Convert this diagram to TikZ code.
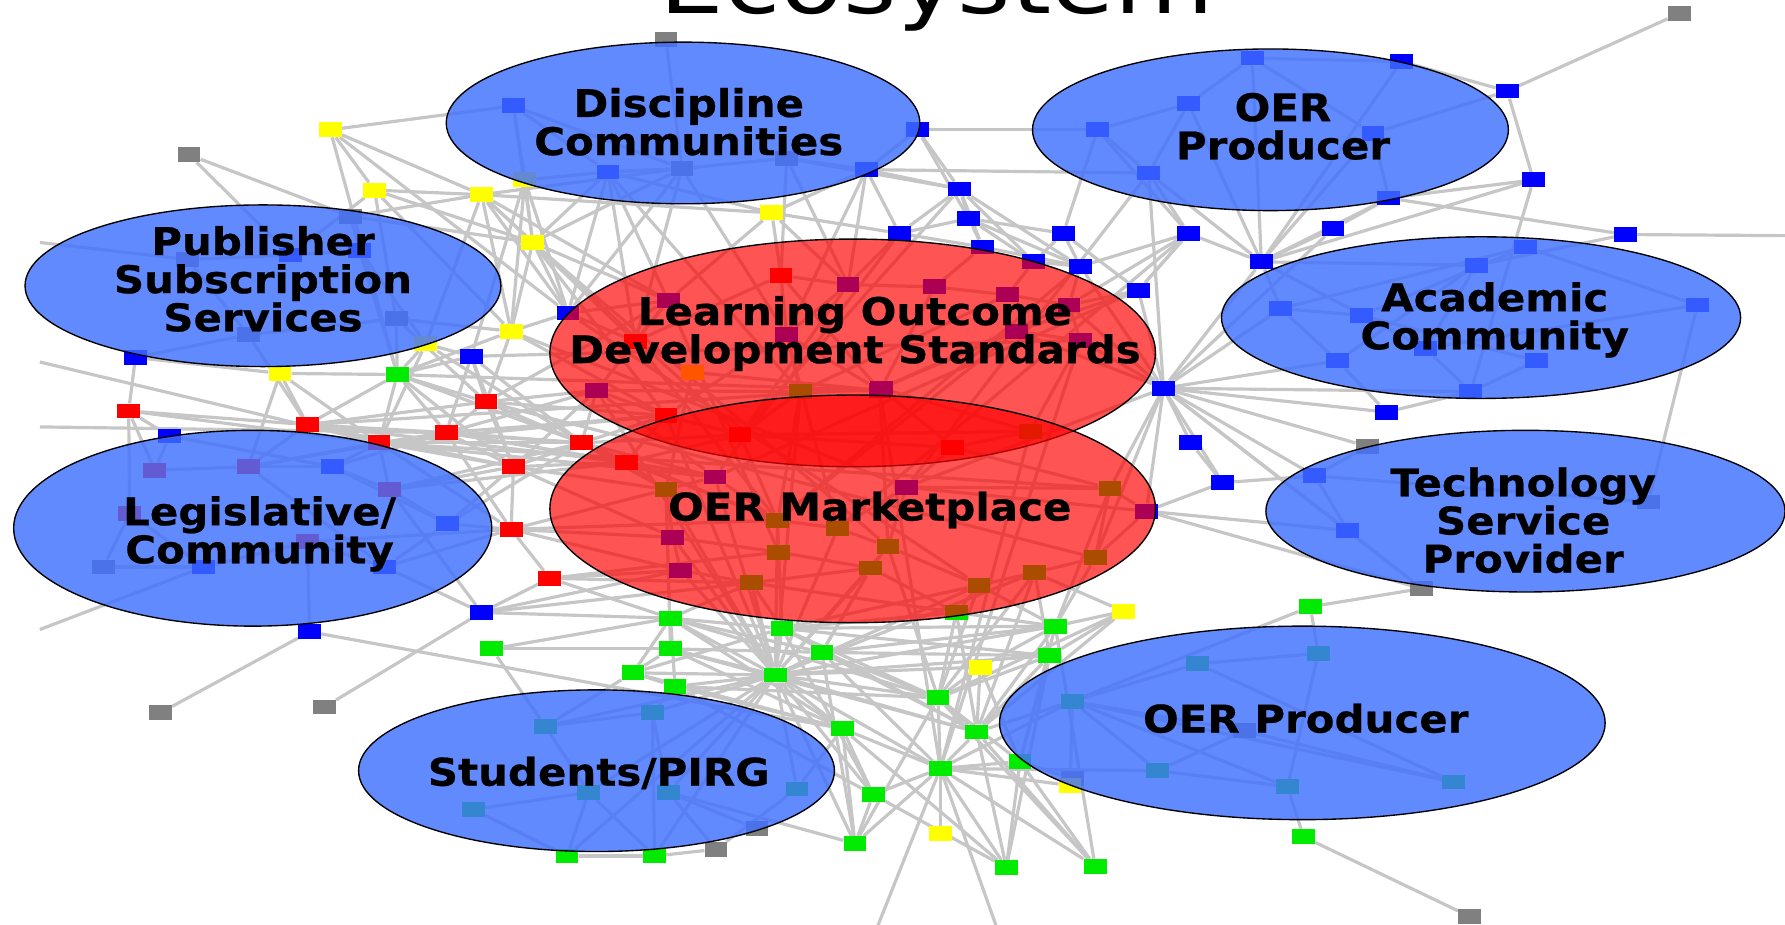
\documentclass[tikz,border=0pt]{standalone}
\usepackage{fontspec}
\usetikzlibrary{shapes.geometric}
\newfontfamily\lblfont[FakeStretch=1.1,FakeBold=0.6]{DejaVu Sans Bold}
\newfontfamily\ttlfont[FakeStretch=1.2]{DejaVu Sans}
\definecolor{ebl}{RGB}{64,112,255}
\definecolor{erd}{RGB}{255,0,0}
\definecolor{edgec}{RGB}{198,198,198}
\definecolor{sqg}{RGB}{128,128,128}
\definecolor{sqy}{RGB}{255,255,0}
\definecolor{sqb}{RGB}{0,0,255}
\definecolor{sqr}{RGB}{255,0,0}
\definecolor{sqn}{RGB}{0,235,0}
\pgfdeclarelayer{bg}
\pgfsetlayers{bg,main}
\tikzset{
  sq/.style={rectangle,minimum width=20pt,minimum height=13pt,inner sep=0pt,draw=none},
  edgeline/.style={draw=edgec,line width=2.8pt},
  blueell/.style={ellipse,inner sep=0pt,fill=ebl,fill opacity=0.82,draw=black,line width=1.2pt},
  redell/.style={ellipse,inner sep=0pt,fill=erd,fill opacity=0.67,draw=black,line width=1.2pt},
  lbl/.style={align=center,inner sep=0pt,font=\lblfont\fontsize{33.5}{33.5}\selectfont},
}
\begin{document}
\begin{tikzpicture}[x=1pt,y=-1pt]
\useasboundingbox (0,0) rectangle (1568,812);
\clip (0,0) rectangle (1568,812);
% title
\node[inner sep=0pt,anchor=base,font=\ttlfont\fontsize{75}{75}\selectfont] (title) at (823,11.6) {Ecosystem};
% picture edge coordinates
\coordinate (E1) at (1568,207);
\coordinate (E2) at (770,816);
\coordinate (E3) at (876,816);
\coordinate (E4) at (35,375);
\coordinate (E5) at (35,318);
\coordinate (E6) at (35,553);
\coordinate (E7) at (35,213);
% squares
\foreach \n/\x/\y in {G1/1475/12,G2/585/35,G3/166/136,G4/141/626,G5/285/621,G6/629/746,G7/1291/805,G8/1249/517,G9/1201/392,G10/1448/441,G11/1093/642,G12/942/684,G13/599/148,G14/691/139,G15/165/228,G16/348/280,G17/218/294,G18/308/190,G19/665/728,G20/91/498}
  \node[sq,fill=sqg] (\n) at (\x,\y) {};
\foreach \n/\x/\y in {Y1/290/114,Y2/329/167,Y3/423/171,Y4/468/213,Y5/678/187,Y6/449/291,Y7/246/328,Y8/374/302,Y9/461/158,Y10/987/537,Y11/861/586,Y12/826/732,Y13/940/690,Y14/608/327}
  \node[sq,fill=sqy] (\n) at (\x,\y) {};
\foreach \n/\x/\y in {B1/1231/54,B2/1324/80,B3/1100/51,B4/1044/91,B5/964/114,B6/1206/117,B7/1009/152,B8/1347/158,B9/1220/174,B10/806/114,B11/843/166,B12/851/192,B13/790/205,B14/934/205,B15/863/217,B16/908/230,B17/949/234,B18/1000/255,B19/1044/205,B20/1171/201,B21/1108/230,B22/1428/206,B23/1340/217,B24/1297/233,B25/1125/271,B26/1196/277,B27/1491/268,B28/1252/306,B29/1175/317,B30/1350/317,B31/1292/344,B32/1218/362,B33/1022/341,B34/1046/389,B35/1074/424,B36/1007/449,B37/1155/418,B38/1184/466,B39/451/93,B40/534/151,B41/761/149,B42/255/224,B43/316/220,B44/119/314,B45/499/275,B46/414/313,B47/149/383,B48/272/555,B49/423/538,B50/292/410,B51/393/460,B52/179/498,B53/338/498,B54/745/250,B55/587/264,B56/691/294,B57/524/343,B58/773/343,B59/821/252,B60/885/259,B61/939/268,B62/893/291,B63/949/299,B64/628/419,B65/591/472,B66/598/501,B67/796/428,B68/774/341}
  \node[sq,fill=sqb] (\n) at (\x,\y) {};
\foreach \n/\x/\y in {R1/113/361,R2/270/373,R3/333/389,R4/392/380,R5/427/353,R6/511/389,R7/451/410,R8/550/406,R9/449/465,R10/483/508,R11/585/365,R12/686/242,R13/558/300,R14/650/382,R15/837/393,R16/136/413,R17/218/410,R18/342/430,R19/114/451,R20/270/476}
  \node[sq,fill=sqr] (\n) at (\x,\y) {};
\foreach \n/\x/\y in {N1/349/329,N2/432/570,N3/589/543,N4/589/570,N5/556/591,N6/593/603,N7/681/593,N8/687/552,N9/722/573,N10/740/640,N11/767/698,N12/751/741,N13/824/613,N14/858/643,N15/826/675,N16/896/669,N17/884/762,N18/962/761,N19/927/550,N20/922/576,N21/1151/533,N22/1145/735,N23/498/752,N24/575/752,N25/573/626,N26/479/638,N27/517/696,N28/587/696,N29/700/693,N30/416/711,N31/1052/583,N32/1158/574,N33/942/616,N34/1017/677,N35/1131/691,N36/1277/687,N37/703/344,N38/585/430,N39/683/457,N40/736/464,N41/684/485,N42/780/480,N43/765/499,N44/660/512,N45/860/514,N46/909/503,N47/962/490,N48/975/429,N49/840/538,N50/905/379}
  \node[sq,fill=sqn] (\n) at (\x,\y) {};
% connectors
\begin{pgfonlayer}{bg}
\foreach \a/\b in {G1/B2,B2/B8,B2/B1,B2/B6,B1/B3,B1/B21,B3/B4,B3/B21,B3/B6,B4/B5,B4/B21,B4/B7,B5/B10,B5/B7,B5/B19,B6/B21,B6/B9,B7/B21,B7/B33,B7/B41,B8/B9,B8/B21,B9/B22,B9/B21,B9/B20,B22/E1,B22/B24,B20/B21,B20/B33,B21/B24,B21/B25,B21/B28,B21/B19,B21/B33,B19/B7,B19/B17,B19/B61,B19/B18,B8/B31,B23/B26,B23/B25,B24/B28,B24/B29,B25/B26,B25/B29,B26/B30,B27/B28,B27/B23,B28/B31,B29/B32,B30/B31,B31/B32,B33/B25,B33/B29,B33/B32,B33/G9,B33/B37,B33/B38,B33/B34,B33/B35,B33/B36,B33/B18,B33/B61,B33/B63,B33/B62,B33/B17,B33/B31,B33/G8,B33/N47,B33/N48,B33/B67,B34/B35,B35/B36,B35/B37,B36/G8,B36/B38,B36/B67,B36/N47,G9/B37,G8/N21,N21/N33,N21/N32,N32/N31,N31/N33,N32/N35,N33/N34,N33/N35,N34/N35,N31/N36,N33/N36,N35/N22,N22/G7,N34/N15,B37/B38,B37/G10,G10/B27,B38/G8}
  \draw[edgeline] (\a) -- (\b);
\foreach \a/\b in {B11/B12,B11/B13,B11/B15,B11/B16,B11/B17,B11/B10,B11/B41,B12/B15,B12/B16,B12/B13,B12/B14,B12/B17,B13/B54,B13/B15,B14/B16,B14/B17,B14/B5,B14/B18,B15/B17,B15/B59,B16/B60,B16/B17,B17/B61,B18/B61,B18/B62,B18/B19,B10/B41,B10/B5,B10/B12,B41/B13,B41/G14,Y5/B13,Y5/B41}
  \draw[edgeline] (\a) -- (\b);
\foreach \a/\b in {G2/G13,B39/G13,B39/B40,B39/Y9,B40/G13,G13/G14,G14/B41,B40/Y9,G13/Y4,G14/B11,B40/R13,G13/B45,Y1/B45,Y1/Y2,Y1/N1,Y1/B39,Y2/Y3,Y2/B42,Y2/Y4,Y3/Y4,Y3/G13,Y3/B55,Y4/Y6,Y4/B45,Y4/R11,Y5/R12,Y5/B40,Y5/Y3,Y9/B46,G3/B42,G3/G18,G18/B43,G18/Y3,B42/B43,B42/G15,B43/Y8,G15/G17,G17/G16,G17/B44,G15/E7,B44/R1,E5/R3,E4/R4,E6/B52,G16/Y6,Y8/B46,Y6/B45,Y6/N1,Y6/R5,B45/R13,B45/B55,B46/R5,B46/N1,B46/R4,Y7/R2,Y7/B44,Y7/R17,Y7/N1,N1/R5,N1/R3,N1/R6,N1/R7,Y2/Y6,Y3/Y6,Y3/B45,Y4/B55,Y9/Y4,B40/B45,B40/Y4,G13/R13,B39/Y4,Y5/B55,Y5/B54,B41/B54,G14/B54,G14/R12,B40/B55,Y9/B45,Y3/Y8,Y2/G16,Y1/Y3,Y9/Y6,Y4/R13,G18/Y4}
  \draw[edgeline] (\a) -- (\b);
\foreach \a/\b in {R1/R2,R1/B47,R1/R16,R1/R19,R2/R3,R2/R4,R2/R17,R3/R4,R3/R18,R4/R5,R4/R6,R4/R7,R5/R6,R5/R11,R5/B55,R6/R7,R6/R8,R6/R11,R6/B57,R6/N38,R6/B64,R7/R8,R7/R9,R7/R18,R8/R14,R8/B64,R8/N38,R8/R11,R9/R10,R9/B51,R9/N38,R9/B65,R10/B66,R10/N3,R10/B49,R11/B57,R11/R14,R11/B56,R13/R12,R13/B55,R13/Y14,R12/B54,R12/B56,R14/N39,R14/R15,R15/B68,R15/N50,R15/B67,R15/N48,R3/R6,R2/R7,R4/R8,R3/R9,R5/R8,R4/R11,Y8/R6,Y6/R11,B46/R7,R2/R6,R3/R7,R4/R9,R5/R7,R1/R3,R2/R5,N1/R4,N1/R2,Y7/R3,B46/R6,Y8/R3,R17/R4,R18/R6,R18/R8,B51/R6,B51/R7,R20/R9,B53/R9,R3/B64,R4/B64,R7/N38,R7/B65,R9/B66,R2/R8,R3/R11,R4/B57,R5/B57,R6/N39,R8/N39,R7/B57,R6/R14,R9/N39,R10/N41,R10/N44,B49/N44,B49/N3,R17/R3,B50/R3,B50/R4,G16/R5,G16/N1,B43/N1,Y8/N1,G17/R2}
  \draw[edgeline] (\a) -- (\b);
\foreach \a/\b in {B47/R16,B47/B50,R16/R17,R17/B50,B50/R18,R18/B51,B51/B53,B52/R20,R20/B53,R19/B52,R19/G20,G20/B52,R20/B48,B53/B49,R18/B49,B48/G4,B49/G5,B48/N10,B49/B66,N2/N3,N2/N4,N2/N26,R17/B53,B50/B51}
  \draw[edgeline] (\a) -- (\b);
\foreach \a/\b in {N7/N3,N7/N4,N7/N5,N7/N6,N7/N8,N7/N9,N7/N10,N7/N11,N7/N12,N7/N13,N7/N14,N7/N15,N7/N19,N7/N20,N7/N24,N7/N23,N7/N25,N7/N26,N7/N27,N7/N28,N7/N29,N7/B66,N7/N44,N7/N43,N7/N42,N7/N45,N7/N46,N7/N38,N7/N39,N7/N40,N7/B64,N7/B65,N7/Y11,N7/B57,N7/R11,N7/N37,N3/N8,N3/N9,N4/N9,N5/N8,N6/N13,N8/N19,N9/N19,N9/N20,N8/N49,N49/N19,N45/N19,N46/N20,N47/N19,Y10/N19,Y10/N20,Y10/N13,Y10/N46,Y11/N13,Y11/N19,Y11/N14,N13/N14,N14/N15,N13/N15,N15/N11,N15/N12,N15/N17,N15/N18,N15/N16,N15/E2,N15/E3,N15/Y12,N15/N10,N15/N33,N16/N19,N17/N20,N18/N19,N18/N14,N12/N11,N12/N10,N11/N10,N10/N29,N12/N28,N23/N27,N24/N25,N23/N30,N24/N27,N23/N24,N24/G6,G6/N28,G6/N29,G19/N28,N25/N26,N26/N27,N25/N28,N30/N27,N15/B58,N15/N50,N15/B63,N13/N42,N14/N46,N3/N44,N4/N38,N5/N26,N6/N25,N9/N43,N8/N45,G11/N33,G11/N36,G11/N34,Y13/N33,Y13/N15,G12/N16,N20/N13,N19/N48,N14/N33}
  \draw[edgeline] (\a) -- (\b);
\foreach \a/\b in {N3/N6,N4/N5,N5/N6,N3/N5,N8/N13,N9/N13,N9/N14,N8/N20,N6/N10,N4/N10,N3/N10,N5/N10,N6/N11,N8/N14,N9/N15,N20/N14,N19/N14,N13/N16,N13/N18,N14/N17,N11/N17,N10/N17,N12/N13,N9/N12,N8/N11,N3/N13,N4/N14,Y10/N14,Y11/N16,N16/N18,N16/N17,N20/N16,N45/N13,N46/N13,N49/N13,N49/N14,N43/N9,N44/N8,N41/N8}
  \draw[edgeline] (\a) -- (\b);
\foreach \a/\b in {B54/B56,B54/B59,B55/B57,B56/N37,B56/B58,B57/N37,B58/N37,B58/B68,B59/B60,B60/B61,B61/B63,B62/B63,B62/B68,B63/N50,B68/N50,R14/N50,N37/R14,B64/N38,B64/N39,N38/B65,B65/N41,B65/B66,B66/N44,N39/N40,N39/N41,N40/N42,N40/B67,N41/N43,N42/N43,N43/N44,N42/N45,N45/N46,N46/N47,N47/N48,N48/B67,B67/N42,N44/N49,N43/N49,N45/N49,B36/N48,B57/B64,Y14/N38,B56/N40,B58/N42,N37/N39,B54/R14,R12/B58,B59/B68,R3/N48,R2/B68,Y6/B67,B45/N45,Y4/N42,R5/N47,B46/B63,N1/B58,Y3/R14,B40/N37,G13/B56,B41/B56,B13/B64,B11/R14,B17/N39,B18/B64,B19/N40,B7/B67,B60/N37,B62/N39,B61/B68,Y14/B58,R13/N39,B55/N41}
  \draw[edgeline] (\a) -- (\b);
\end{pgfonlayer}
% ellipses
\node[blueell,minimum width=416pt,minimum height=142pt] (disc) at (600,108) {};
\node[blueell,minimum width=418pt,minimum height=142pt] (oerp1) at (1116,114) {};
\node[blueell,minimum width=418pt,minimum height=142pt] (pub) at (231,251) {};
\node[blueell,minimum width=456pt,minimum height=142pt] (acad) at (1301,279) {};
\node[blueell,minimum width=420pt,minimum height=172pt] (legis) at (222,464) {};
\node[blueell,minimum width=456pt,minimum height=142pt] (tech) at (1340,449) {};
\node[blueell,minimum width=532pt,minimum height=170pt] (oerp2) at (1144,635) {};
\node[blueell,minimum width=418pt,minimum height=142pt] (stud) at (524,677) {};
\node[redell,minimum width=532pt,minimum height=200pt] (lods) at (749,310) {};
\node[redell,minimum width=532pt,minimum height=200pt] (mkt) at (749,447) {};
% labels
\node[lbl] (tdisc) at (605,107) {Discipline\\Communities};
\node[lbl] (toerp1) at (1127,111) {OER\\Producer};
\node[lbl] (tpub) at (231,245) {Publisher\\Subscription\\Services};
\node[lbl] (tacad) at (1313,281) {Academic\\Community};
\node[lbl] (tlods) at (751,293) {Learning Outcome\\Development Standards};
\node[lbl] (tmkt) at (764,448) {OER Marketplace};
\node[lbl] (tlegis) at (228,469) {Legislative/\\Community};
\node[lbl] (ttech) at (1338,457) {Technology\\Service\\Provider};
\node[lbl] (toerp2) at (1147,631) {OER Producer};
\node[lbl] (tstud) at (526,679) {Students/PIRG};
\end{tikzpicture}
\end{document}
